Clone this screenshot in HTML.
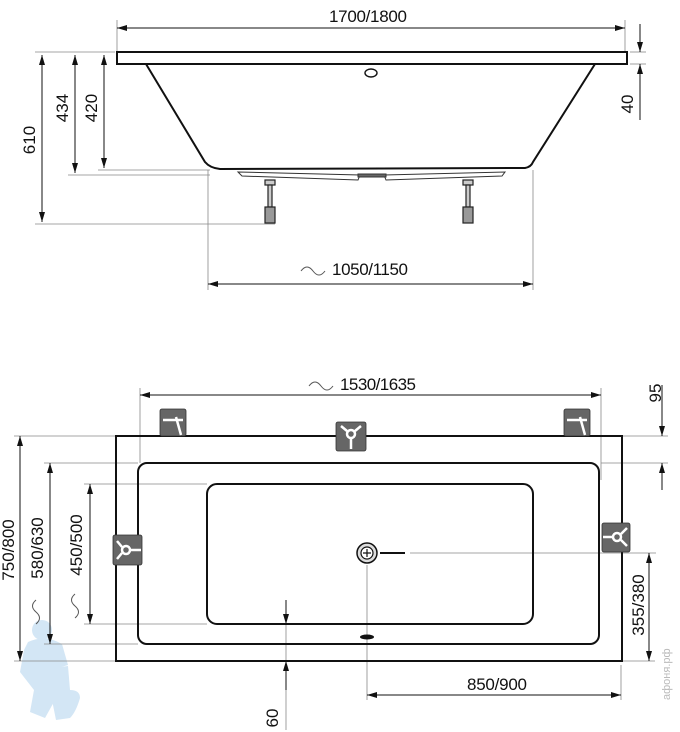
<!DOCTYPE html>
<html><head><meta charset="utf-8"><style>
html,body{margin:0;padding:0;background:#fff;}
svg{display:block;font-family:"Liberation Sans",sans-serif;}
</style></head><body>
<svg width="680" height="732" viewBox="0 0 680 732" xmlns="http://www.w3.org/2000/svg">
<defs>
<marker id="a" viewBox="0 0 10 6" refX="10" refY="3" markerWidth="11" markerHeight="6" orient="auto-start-reverse" markerUnits="userSpaceOnUse"><path d="M0,0 L10,3 L0,6 Z" fill="#111"/></marker>
</defs>
<!-- watermark -->
<g fill="#d3e6f5">
<circle cx="42" cy="630" r="10"/>
<path d="M28,642 Q45,634 62,644 L68,665 L58,668 L55,700 L45,718 L30,712 L34,690 L20,672 L24,650 Z"/>
<path d="M52,668 L68,666 L70,690 Q80,690 80,698 Q76,712 70,718 L56,720 L52,700 Z"/>
</g>
<g stroke="#888" stroke-width="0.8" fill="none">
<line x1="117" y1="20" x2="117" y2="52"/>
<line x1="625" y1="20" x2="625" y2="60"/>
<line x1="35" y1="52" x2="115" y2="52"/>
<line x1="630" y1="52" x2="646" y2="52"/>
<line x1="630" y1="64" x2="646" y2="64"/>
<line x1="68" y1="175" x2="210" y2="175"/>
<line x1="98" y1="170" x2="210" y2="170"/>
<line x1="35" y1="224" x2="275" y2="224"/>
<line x1="208" y1="170" x2="208" y2="290"/>
<line x1="533" y1="170" x2="533" y2="290"/>
<line x1="140" y1="388" x2="140" y2="463"/>
<line x1="601" y1="388" x2="601" y2="480"/>
<line x1="14" y1="436" x2="116" y2="436"/>
<line x1="622" y1="436" x2="668" y2="436"/>
<line x1="601" y1="463" x2="668" y2="463"/>
<line x1="44" y1="463" x2="138" y2="463"/>
<line x1="84" y1="484" x2="207" y2="484"/>
<line x1="84" y1="624" x2="207" y2="624"/>
<line x1="44" y1="644" x2="138" y2="644"/>
<line x1="14" y1="661" x2="116" y2="661"/>
<line x1="622" y1="661" x2="655" y2="661"/>
<line x1="410" y1="553" x2="656" y2="553"/>
<line x1="367" y1="565" x2="367" y2="700"/>
<line x1="621" y1="665" x2="621" y2="700"/>
<line x1="286" y1="616" x2="286" y2="730"/>
</g>
<g stroke="#111" stroke-width="1" fill="none">
<line x1="117" y1="28" x2="625" y2="28" marker-start="url(#a)" marker-end="url(#a)"/>
<line x1="42" y1="55" x2="42" y2="222" marker-start="url(#a)" marker-end="url(#a)"/>
<line x1="75" y1="55" x2="75" y2="173" marker-start="url(#a)" marker-end="url(#a)"/>
<line x1="104" y1="55" x2="104" y2="168" marker-start="url(#a)" marker-end="url(#a)"/>
<line x1="640" y1="24" x2="640" y2="52" marker-end="url(#a)"/>
<line x1="640" y1="120" x2="640" y2="64" marker-end="url(#a)"/>
<line x1="208" y1="284" x2="533" y2="284" marker-start="url(#a)" marker-end="url(#a)"/>
<line x1="140" y1="395" x2="601" y2="395" marker-start="url(#a)" marker-end="url(#a)"/>
<line x1="662" y1="385" x2="662" y2="436" marker-end="url(#a)"/>
<line x1="662" y1="490" x2="662" y2="463" marker-end="url(#a)"/>
<line x1="20" y1="436" x2="20" y2="661" marker-start="url(#a)" marker-end="url(#a)"/>
<line x1="50" y1="463" x2="50" y2="644" marker-start="url(#a)" marker-end="url(#a)"/>
<line x1="90" y1="484" x2="90" y2="624" marker-start="url(#a)" marker-end="url(#a)"/>
<line x1="649" y1="553" x2="649" y2="661" marker-start="url(#a)" marker-end="url(#a)"/>
<line x1="367" y1="695" x2="621" y2="695" marker-start="url(#a)" marker-end="url(#a)"/>
<line x1="286" y1="600" x2="286" y2="624" marker-end="url(#a)"/>
<line x1="286" y1="690" x2="286" y2="661" marker-end="url(#a)"/>
</g>
<g stroke="#111" stroke-width="2" fill="#fff">
<rect x="117" y="52" width="510" height="12"/>
<path d="M146,64 L205,162 Q210,168 220,169 L525,168 Q531,167 533,162 L595,64" fill="none"/>
<ellipse cx="371" cy="73" rx="6" ry="4" stroke-width="1.4"/>
</g>
<g fill="#fff" stroke="#333" stroke-width="1">
<path d="M238,172 L360,175 L358,180 L242,176 Z"/>
<path d="M384,175 L505,172 L502,176 L386,180 Z"/>
<rect x="358" y="174" width="28" height="3" fill="#666"/>
</g>
<g stroke="#222" stroke-width="1.2" fill="#ccc">
<rect x="265" y="180" width="10" height="5"/>
<rect x="268" y="185" width="4" height="22"/>
<rect x="265" y="207" width="10" height="16" fill="#999"/>
<rect x="463" y="180" width="10" height="5"/>
<rect x="466" y="185" width="4" height="22"/>
<rect x="463" y="207" width="10" height="16" fill="#999"/>
</g>
<g stroke="#111" stroke-width="2" fill="none">
<rect x="116" y="436" width="506" height="225"/>
<rect x="138" y="463" width="461" height="181" rx="9"/>
<rect x="207" y="484" width="326" height="140" rx="10"/>
<line x1="380" y1="553" x2="405" y2="553"/>
</g>
<circle cx="367" cy="553" r="10" fill="#ddd" stroke="#111" stroke-width="1.5"/>
<circle cx="367" cy="553" r="6" fill="#fff" stroke="#111" stroke-width="1.2"/>
<path d="M363,553 h8 M367,549 v8" stroke="#111" stroke-width="1.2"/>
<ellipse cx="367" cy="637" rx="7" ry="2.5" fill="#111"/>
<g fill="#666" stroke="#333" stroke-width="0.8">
<rect x="160" y="409" width="26" height="27" rx="2"/>
<rect x="564" y="409" width="26" height="27" rx="2"/>
<rect x="336" y="422" width="30" height="29" rx="2"/>
<rect x="113" y="535" width="29" height="30" rx="2"/>
<rect x="602" y="523" width="28" height="29" rx="2"/>
</g>
<g stroke="#fff" stroke-width="2.5" fill="none">
<path d="M163,420 h20 M176,417 l5,18"/>
<path d="M567,420 h20 M580,417 l5,18"/>
<circle cx="351" cy="434" r="4"/><path d="M341,426 l6,5 M361,426 l-6,5 M351,438 v11"/>
<circle cx="126" cy="550" r="4"/><path d="M117,541 l5,6 M117,559 l5,-6 M130,550 h11"/>
<circle cx="617" cy="537" r="4"/><path d="M627,528 l-6,6 M627,546 l-6,-6 M613,537 h-10"/>
</g>
<text x="0" y="0" transform="translate(670,700) rotate(-90)" font-size="11" fill="#bbb">афоня.рф</text>
<g font-size="17" fill="#111">
<text x="368" y="22" text-anchor="middle" textLength="78">1700/1800</text>
<text x="332" y="275" textLength="76">1050/1150</text>
<text x="340" y="390" textLength="76">1530/1635</text>
<text x="497" y="690" text-anchor="middle" textLength="60">850/900</text>
<text transform="translate(35,140) rotate(-90)" text-anchor="middle">610</text>
<text transform="translate(68,108) rotate(-90)" text-anchor="middle">434</text>
<text transform="translate(97,108) rotate(-90)" text-anchor="middle">420</text>
<text transform="translate(633,104) rotate(-90)" text-anchor="middle">40</text>
<text transform="translate(661,393) rotate(-90)" text-anchor="middle">95</text>
<text transform="translate(14,550) rotate(-90)" text-anchor="middle">750/800</text>
<text transform="translate(43,548) rotate(-90)" text-anchor="middle">580/630</text>
<text transform="translate(82,545) rotate(-90)" text-anchor="middle">450/500</text>
<text transform="translate(644,605) rotate(-90)" text-anchor="middle">355/380</text>
<text transform="translate(278,718) rotate(-90)" text-anchor="middle">60</text>
</g>
<g stroke="#555" stroke-width="1" fill="none">
<path d="M301,271 q6,-8 12,0 t12,0"/>
<path d="M309,386 q6,-8 12,0 t12,0"/>
<path d="M36,600 q-7,6 0,12 t0,12"/>
<path d="M75,594 q-7,6 0,12 t0,12"/>
</g>
</svg>
</body></html>
